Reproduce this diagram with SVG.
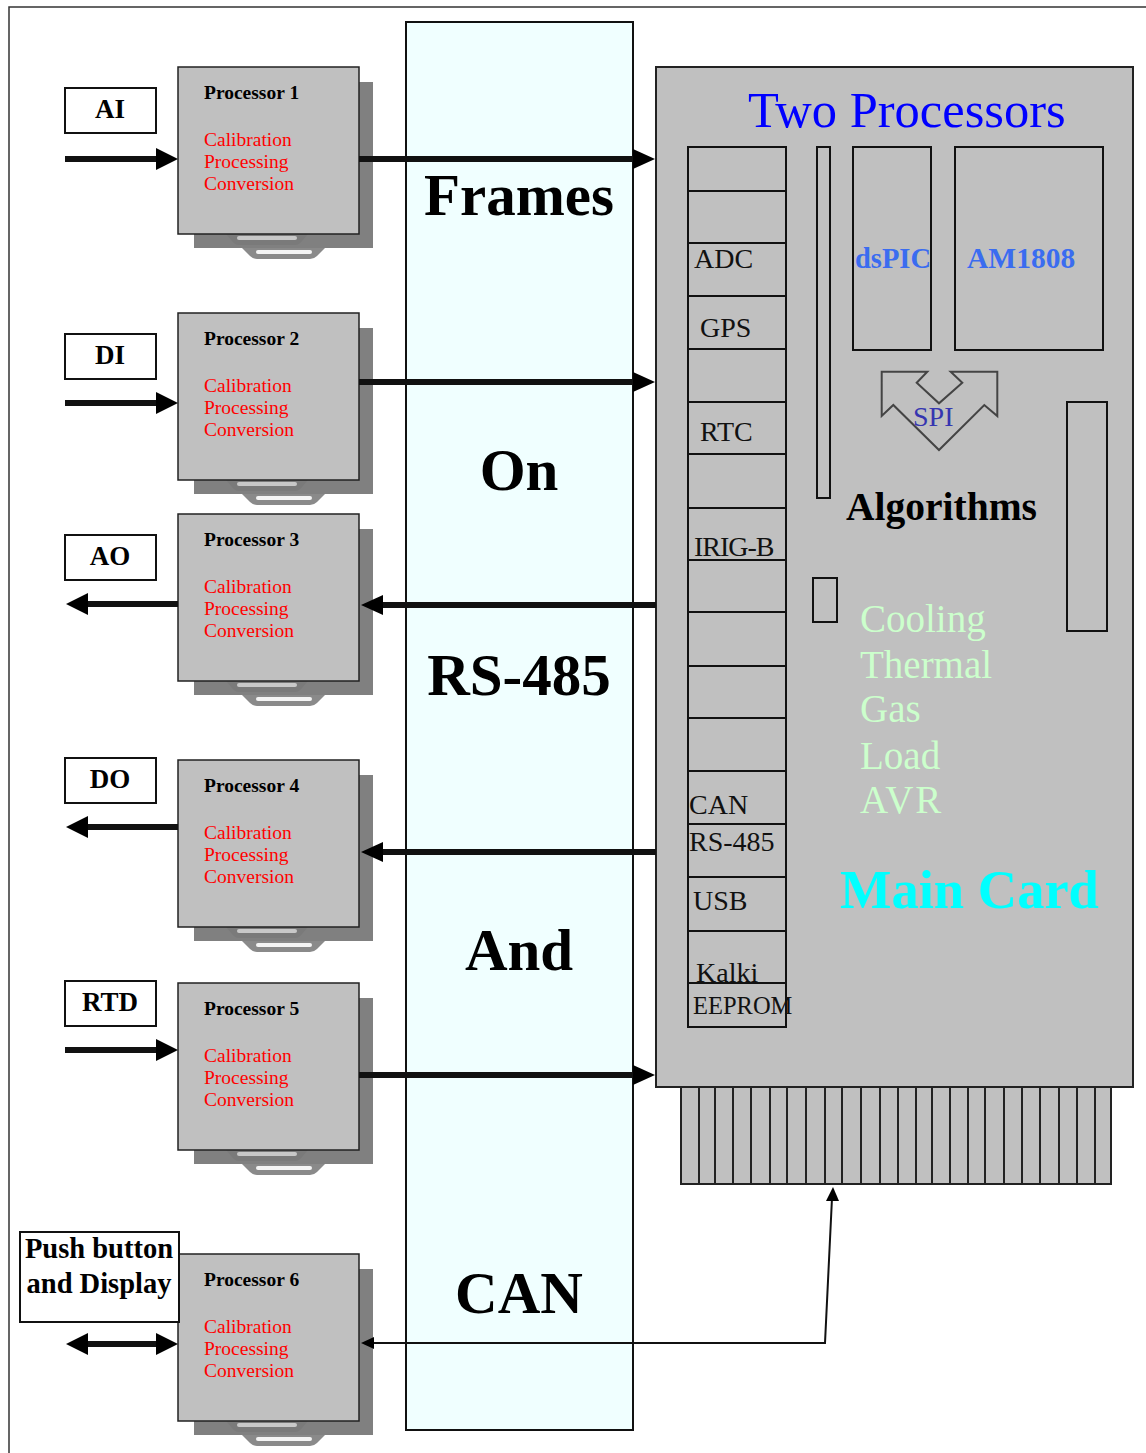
<svg xmlns="http://www.w3.org/2000/svg" xmlns:xlink="http://www.w3.org/1999/xlink" width="1146" height="1453" viewBox="0 0 1146 1453">
<style>
.ptitle{font-family:"Liberation Serif",serif;font-weight:bold;font-size:19.5px;fill:#000}
.pred{font-family:"Liberation Serif",serif;font-size:19.5px;fill:#ff0000}
.lbl{font-family:"Liberation Serif",serif;font-weight:bold;font-size:27px;fill:#000;text-anchor:middle}
.band{font-family:"Liberation Serif",serif;font-weight:bold;font-size:59px;fill:#000;text-anchor:middle}
.slot{font-family:"Liberation Serif",serif;font-size:28px;fill:#111}
.green{font-family:"Liberation Serif",serif;font-size:39px;fill:#ccffcc}
.box{fill:#fff;stroke:#111;stroke-width:2}
.cell{fill:none;stroke:#111;stroke-width:2}
.thick{stroke:#111;stroke-width:6;fill:none}
.head{fill:#000}
</style>
<defs>
<g id="procbody">
<rect x="194" y="82" width="179" height="166" fill="#808080"/>
<path d="M242,248 L250,256 Q253,259 257,259 L310,259 Q314,259 317,256 L325,248 Z" fill="#8a8a8a"/>
<rect x="256" y="250" width="56" height="4" rx="2" fill="#f4f4f4"/>
<path d="M226,234 L232,241 Q235,245 239,245 L295,245 Q299,245 302,241 L308,234 Z" fill="#7a7a7a"/>
<rect x="237" y="236" width="60" height="4" rx="2" fill="#c8c8c8"/>
<rect x="178" y="67" width="181" height="167" fill="#c0c0c0" stroke="#222" stroke-width="1.5"/>
</g>
</defs>

<rect x="9" y="7" width="1150" height="1460" fill="none" stroke="#333" stroke-width="1.5"/>

<g id="bus">
<rect x="406" y="22" width="227" height="1408" fill="#f0ffff" stroke="#111" stroke-width="2"/>
<text class="band" x="519" y="215">Frames</text>
<text class="band" x="519" y="490">On</text>
<text class="band" x="519" y="695">RS-485</text>
<text class="band" x="519" y="970">And</text>
<text class="band" x="519" y="1313">CAN</text>
</g>

<g id="maincard">
<rect x="681" y="1087" width="430" height="97" fill="#c0c0c0" stroke="#222" stroke-width="2"/>
<path d="M699,1087V1184M715,1087V1184M733,1087V1184M751,1087V1184M770,1087V1184M787,1087V1184M806,1087V1184M825,1087V1184M842,1087V1184M861,1087V1184M880,1087V1184M898,1087V1184M916,1087V1184M932,1087V1184M950,1087V1184M968,1087V1184M985,1087V1184M1004,1087V1184M1022,1087V1184M1040,1087V1184M1059,1087V1184M1077,1087V1184M1095,1087V1184" stroke="#222" stroke-width="2"/>
<rect x="656" y="67" width="477" height="1020" fill="#c0c0c0" stroke="#222" stroke-width="2"/>
<text x="748" y="127" font-family="Liberation Serif, serif" font-size="50.5" fill="#0000ff">Two Processors</text>
<rect class="cell" x="688" y="147" width="98" height="880"/>
<path d="M688,191H786M688,243H786M688,296H786M688,349H786M688,402H786M688,454H786M688,508H786M688,560H786M688,612H786M688,666H786M688,718H786M688,771H786M688,824H786M688,877H786M688,931H786M688,983H786" stroke="#111" stroke-width="2"/>
<text class="slot" x="694" y="268">ADC</text>
<text class="slot" x="700" y="337">GPS</text>
<text class="slot" x="700" y="441">RTC</text>
<text class="slot" x="694" y="556" letter-spacing="-1">IRIG-B</text>
<text class="slot" x="689" y="814">CAN</text>
<text class="slot" x="689" y="851">RS-485</text>
<text class="slot" x="693" y="910">USB</text>
<text class="slot" x="696" y="982">Kalki</text>
<text class="slot" x="693" y="1014" style="font-size:24.5px">EEPROM</text>
<rect class="cell" x="817" y="147" width="13" height="351"/>
<rect class="cell" x="853" y="147" width="78" height="203"/>
<rect class="cell" x="955" y="147" width="148" height="203"/>
<text x="855" y="268" font-family="Liberation Serif, serif" font-weight="bold" font-size="28.5" fill="#3a6cf0">dsPIC</text>
<text x="967" y="268" font-family="Liberation Serif, serif" font-weight="bold" font-size="29.5" fill="#3a6cf0">AM1808</text>
<polygon points="881.7,371.7 927.3,371.7 916.7,382.7 939,403.3 962.3,382.7 950.7,371.7 997.3,371.7 997.3,416 984.3,405 939,450 893.3,405 881.7,416" fill="none" stroke="#444" stroke-width="2"/>
<text x="913" y="426" font-family="Liberation Serif, serif" font-size="28" fill="#3535b0">SPI</text>
<rect class="cell" x="1067" y="402" width="40" height="229"/>
<text x="846" y="520" font-family="Liberation Serif, serif" font-weight="bold" font-size="39.5" fill="#000">Algorithms</text>
<rect class="cell" x="813" y="578" width="24" height="44"/>
<text class="green" x="860" y="632">Cooling</text>
<text class="green" x="860" y="678">Thermal</text>
<text class="green" x="860" y="722">Gas</text>
<text class="green" x="860" y="769">Load</text>
<text class="green" x="860" y="813" letter-spacing="2">AVR</text>
<text x="840" y="908" font-family="Liberation Serif, serif" font-weight="bold" font-size="54.5" fill="#00ffff">Main Card</text>
</g>

<g id="p1">
<use xlink:href="#procbody"/>
<text class="ptitle" x="204" y="99">Processor 1</text>
<text class="pred" x="204" y="146">Calibration</text>
<text class="pred" x="204" y="168">Processing</text>
<text class="pred" x="204" y="190">Conversion</text>
</g>
<g id="p2" transform="translate(0,246)">
<use xlink:href="#procbody"/>
<text class="ptitle" x="204" y="99">Processor 2</text>
<text class="pred" x="204" y="146">Calibration</text>
<text class="pred" x="204" y="168">Processing</text>
<text class="pred" x="204" y="190">Conversion</text>
</g>
<g id="p3" transform="translate(0,447)">
<use xlink:href="#procbody"/>
<text class="ptitle" x="204" y="99">Processor 3</text>
<text class="pred" x="204" y="146">Calibration</text>
<text class="pred" x="204" y="168">Processing</text>
<text class="pred" x="204" y="190">Conversion</text>
</g>
<g id="p4" transform="translate(0,693)">
<use xlink:href="#procbody"/>
<text class="ptitle" x="204" y="99">Processor 4</text>
<text class="pred" x="204" y="146">Calibration</text>
<text class="pred" x="204" y="168">Processing</text>
<text class="pred" x="204" y="190">Conversion</text>
</g>
<g id="p5" transform="translate(0,916)">
<use xlink:href="#procbody"/>
<text class="ptitle" x="204" y="99">Processor 5</text>
<text class="pred" x="204" y="146">Calibration</text>
<text class="pred" x="204" y="168">Processing</text>
<text class="pred" x="204" y="190">Conversion</text>
</g>
<g id="p6" transform="translate(0,1187)">
<use xlink:href="#procbody"/>
<text class="ptitle" x="204" y="99">Processor 6</text>
<text class="pred" x="204" y="146">Calibration</text>
<text class="pred" x="204" y="168">Processing</text>
<text class="pred" x="204" y="190">Conversion</text>
</g>

<g id="ai"><rect class="box" x="65" y="88" width="91" height="45"/><text class="lbl" x="110" y="118">AI</text></g>
<g id="di"><rect class="box" x="65" y="334" width="91" height="45"/><text class="lbl" x="110" y="364">DI</text></g>
<g id="ao"><rect class="box" x="65" y="535" width="91" height="45"/><text class="lbl" x="110" y="565">AO</text></g>
<g id="do"><rect class="box" x="65" y="758" width="91" height="45"/><text class="lbl" x="110" y="788">DO</text></g>
<g id="rtd"><rect class="box" x="65" y="981" width="91" height="45"/><text class="lbl" x="110" y="1011">RTD</text></g>
<g id="pbd"><rect class="box" x="20" y="1232" width="159" height="90"/>
<text x="99" y="1258" font-family="Liberation Serif, serif" font-weight="bold" font-size="28.5" text-anchor="middle">Push button</text>
<text x="99" y="1293" font-family="Liberation Serif, serif" font-weight="bold" font-size="28.5" text-anchor="middle">and Display</text></g>

<g id="connectors">
<path class="thick" d="M65,159H160"/><polygon class="head" points="156,148 178,159 156,170"/>
<path class="thick" d="M65,403H160"/><polygon class="head" points="156,392 178,403 156,414"/>
<path class="thick" d="M84,604H178"/><polygon class="head" points="88,593 66,604 88,615"/>
<path class="thick" d="M84,827H178"/><polygon class="head" points="88,816 66,827 88,838"/>
<path class="thick" d="M65,1050H160"/><polygon class="head" points="156,1039 178,1050 156,1061"/>
<path class="thick" d="M84,1344H160"/><polygon class="head" points="88,1333 66,1344 88,1355"/><polygon class="head" points="156,1333 178,1344 156,1355"/>
<path class="thick" d="M359,159H636"/><polygon class="head" points="633,149 655,159 633,169"/>
<path class="thick" d="M359,382H636"/><polygon class="head" points="633,372 655,382 633,392"/>
<path class="thick" d="M380,605H656"/><polygon class="head" points="383,595 361,605 383,615"/>
<path class="thick" d="M380,852H656"/><polygon class="head" points="383,842 361,852 383,862"/>
<path class="thick" d="M359,1075H636"/><polygon class="head" points="633,1065 655,1075 633,1085"/>
<path d="M372,1343H825L832,1198" fill="none" stroke="#111" stroke-width="2"/>
<polygon class="head" points="374,1337 361,1343 374,1349"/>
<polygon class="head" points="826,1201 833,1187 839,1201"/>
</g>
</svg>
